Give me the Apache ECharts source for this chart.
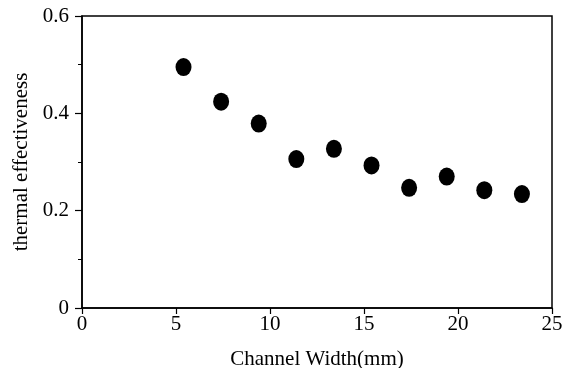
<!DOCTYPE html>
<html>
<head>
<meta charset="utf-8">
<script src="https://cdn.jsdelivr.net/npm/echarts@6/dist/echarts.min.js"></script>
<style>
html,body{margin:0;padding:0;background:#fff;}
#c{width:563px;height:368px;}
</style>
</head>
<body>
<div id="c"></div>
<script>
const channelWidth = [5.4, 7.4, 9.4, 11.4, 13.4, 15.4, 17.4, 19.4, 21.4, 23.4];
const effectiveness = [0.495, 0.424, 0.379, 0.306, 0.327, 0.293, 0.247, 0.270, 0.242, 0.234];
const xTicks = [0, 5, 10, 15, 20, 25];
const yTicks = [0, 0.2, 0.4, 0.6];

const chart = echarts.init(document.getElementById('c'), null, {renderer: 'canvas'});
const font = '"Liberation Serif", "Times New Roman", serif';
chart.setOption({
  animation: false,
  backgroundColor: '#fff',
  grid: {left: 82, right: 11, top: 16, bottom: 60, containLabel: false, outerBoundsMode: 'none',
    show: true, borderColor: '#000', borderWidth: 1.5, backgroundColor: 'transparent'},
  xAxis: {
    type: 'value', min: xTicks[0], max: xTicks[xTicks.length - 1], interval: 5,
    name: 'Channel Width(mm)', nameLocation: 'middle', nameGap: 41,
    nameTextStyle: {fontFamily: font, fontSize: 21, color: '#000'},
    axisLine: {show: true, lineStyle: {color: '#000', width: 1.5}},
    axisTick: {show: true, length: 6, inside: false, lineStyle: {color: '#000', width: 1.2}},
    axisLabel: {fontFamily: font, fontSize: 21, color: '#000', margin: 6},
    splitLine: {show: false}
  },
  yAxis: {
    type: 'value', min: yTicks[0], max: yTicks[yTicks.length - 1], interval: 0.2,
    name: 'thermal effectiveness', nameLocation: 'middle', nameGap: 48,
    nameTextStyle: {fontFamily: font, fontSize: 21, color: '#000'},
    axisLine: {show: true, lineStyle: {color: '#000', width: 1.5}},
    axisTick: {show: true, length: 7, lineStyle: {color: '#000', width: 1.2}},
    minorTick: {show: true, splitNumber: 2, length: 4, lineStyle: {color: '#000', width: 1}},
    axisLabel: {fontFamily: font, fontSize: 21, color: '#000', margin: 13,
      formatter: v => String(Math.round(v * 10) / 10)},
    splitLine: {show: false}, minorSplitLine: {show: false}
  },
  series: [{
    type: 'scatter',
    data: channelWidth.map((x, i) => [x, effectiveness[i]]),
    symbol: 'circle', symbolSize: [16, 18],
    itemStyle: {color: '#000', opacity: 1}
  }]
});
</script>
</body>
</html>
